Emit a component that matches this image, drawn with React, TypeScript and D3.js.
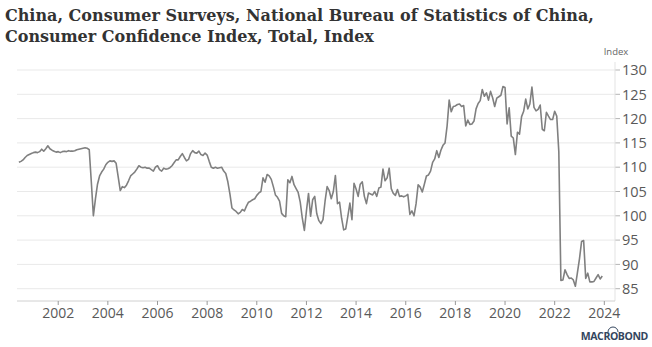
import React from "react";
import * as d3 from "d3";

const W = 652;
const H = 347;

const title1 = "China, Consumer Surveys, National Bureau of Statistics of China,";
const title2 = "Consumer Confidence Index, Total, Index";
const unitLabel = "Index";
const logoText = "MACROBOND";

const yTicks = [85, 90, 95, 100, 105, 110, 115, 120, 125, 130];
const xTickYears = [2002, 2004, 2006, 2008, 2010, 2012, 2014, 2016, 2018, 2020, 2022, 2024];

// monthly series, first observation June 2000
const seriesStartYear = 2000;
const seriesStartMonth = 6;

const values2000s = [
  111.0, 111.2, 111.5, 112.0, 112.4, 112.6, 112.8,
  113.0, 113.1, 113.0, 113.2, 113.7, 113.3, 113.8, 114.4, 113.8, 113.5, 113.3, 113.1,
  113.2, 113.0, 113.2, 113.3, 113.2, 113.4, 113.3, 113.3, 113.4, 113.6, 113.7, 113.8,
  113.9, 114.0, 113.9, 113.6, 107.0, 100.0, 103.5, 106.5, 108.2, 109.0, 109.6, 110.5,
  111.0, 111.3, 111.2, 111.3, 110.8, 108.0, 105.2, 106.0, 105.8, 106.3, 107.2, 108.2,
  108.6, 109.0, 109.6, 110.3, 110.0, 109.9, 110.0, 109.8, 109.8, 109.5, 109.2, 110.0,
  110.3, 109.5, 109.2, 109.8, 109.6, 109.7, 109.9, 110.3, 110.9, 111.5, 111.5, 112.2,
  112.8, 112.0, 111.3, 111.6, 112.8, 113.4, 113.0, 112.9, 113.3, 112.6, 112.4, 112.9,
  112.5, 111.2, 110.0, 109.8, 110.0, 109.8, 109.9, 110.0, 109.2, 108.7, 107.0, 104.5,
  101.6, 101.2, 100.9, 100.4, 100.7, 101.3, 101.0, 102.0, 102.8, 103.0, 103.3, 103.5,
];

const values2010s = [
  104.2, 104.7, 105.0, 107.8, 106.9, 108.5, 108.2, 107.5, 106.0, 104.3, 103.8, 103.0,
  100.5, 100.0, 99.8, 107.4, 106.8, 108.1, 106.4, 105.6, 104.8, 102.8, 99.5, 97.0,
  101.0, 104.6, 99.9, 103.3, 104.0, 100.4, 99.0, 98.4, 99.2, 103.0, 106.0, 105.2,
  103.5, 105.0, 108.3, 102.5, 102.8, 99.5, 97.1, 97.3, 99.9, 102.6, 99.2, 106.7,
  105.5, 104.0, 106.5, 107.0, 104.0, 102.5, 104.7, 104.5, 104.3, 105.0, 104.0, 105.7,
  105.9, 109.6, 107.2, 107.8, 109.8, 105.6, 104.6, 104.2, 105.4, 104.0, 104.1, 103.9,
  104.1, 104.4, 100.3, 101.0, 100.0, 102.5, 106.4, 105.9, 104.9, 106.5, 108.2, 108.4,
  109.2, 111.0, 111.7, 113.4, 112.0, 113.5, 114.5, 115.0, 118.5, 123.8, 121.4, 122.5,
  122.6, 122.9, 123.0, 122.5, 122.7, 118.5, 119.7, 118.8, 118.9, 119.5, 122.0, 123.1,
  123.7, 126.0, 124.6, 125.3, 123.8, 125.6, 124.3, 122.5, 124.2, 124.5, 124.8, 126.6,
];

const values2020s = [
  126.4, 118.9, 122.2, 116.4, 116.0, 112.6, 117.2, 116.8, 120.4, 121.5, 124.0, 122.0,
  123.0, 126.5, 122.3, 121.6, 121.9, 122.8, 117.8, 117.5, 121.3, 120.5, 119.8, 119.8,
  121.5, 120.5, 113.2, 86.7, 86.8, 88.9, 87.9, 87.1, 87.2, 86.8, 85.5, 88.3,
  91.2, 94.7, 94.9, 87.1, 88.2, 86.4, 86.4, 86.5, 87.2, 87.9, 87.0, 87.6,
];

type Pt = { t: number; v: number };

const allValues = [...values2000s, ...values2010s, ...values2020s];
const series: Pt[] = allValues.map((v, i) => ({
  t: seriesStartYear + (seriesStartMonth - 1 + i) / 12,
  v,
}));

const PLOT_LEFT = 17;
const PLOT_RIGHT = 615;
const AXIS_Y = 301;

const x = d3.scaleLinear().domain([2000.34, 2024.43]).range([PLOT_LEFT, PLOT_RIGHT]);
const y = d3.scaleLinear().domain([85, 130]).range([288.7, 70]);

const lineGen = d3
  .line<Pt>()
  .x((d) => x(d.t))
  .y((d) => y(d.v));

const sans = "'Open Sans', 'Noto Sans', sans-serif";
const serif = "'DejaVu Serif', serif";

export default function App() {
  const path = lineGen(series) || "";
  return (
    <div style={{ position: "absolute", left: 0, top: 0 }}>
      <svg width={W} height={H} style={{ display: "block", background: "#fff" }}>
        <text x={5} y={21} fontFamily={serif} fontWeight="bold" fontSize={16} fill="#333">
          {title1}
        </text>
        <text x={5} y={42} fontFamily={serif} fontWeight="bold" fontSize={16} fill="#333">
          {title2}
        </text>

        {yTicks.map((t) => (
          <g key={t}>
            <line
              x1={PLOT_LEFT}
              x2={PLOT_RIGHT}
              y1={y(t)}
              y2={y(t)}
              stroke="#e9e9e9"
              strokeWidth={1}
            />
            <line x1={PLOT_RIGHT} x2={PLOT_RIGHT + 5} y1={y(t)} y2={y(t)} stroke="#b5b5b5" />
            <text
              x={622}
              y={y(t)}
              dy="0.36em"
              fontFamily={sans}
              fontSize={14.5}
              fill="#595959"
            >
              {t}
            </text>
          </g>
        ))}

        <line x1={PLOT_RIGHT} x2={PLOT_RIGHT} y1={62} y2={AXIS_Y} stroke="#e3e3e3" />
        <text x={616} y={55} textAnchor="middle" fontFamily={sans} fontSize={9.5} fill="#666">
          {unitLabel}
        </text>

        <line x1={PLOT_LEFT} x2={PLOT_RIGHT} y1={AXIS_Y} y2={AXIS_Y} stroke="#d0d0d0" />
        {xTickYears.map((yr) => (
          <g key={yr}>
            <line x1={x(yr)} x2={x(yr)} y1={AXIS_Y} y2={AXIS_Y + 4} stroke="#999" />
            <text
              x={x(yr)}
              y={318}
              textAnchor="middle"
              fontFamily={sans}
              fontSize={14}
              fill="#595959"
            >
              {yr}
            </text>
          </g>
        ))}

        <path d={path} fill="none" stroke="#808080" strokeWidth={1.6} strokeLinejoin="round" />

        <g>
          <text
            x={648}
            y={340}
            textAnchor="end"
            fontFamily={sans}
            fontWeight="bold"
            fontSize={10.5}
            fill="#34465e"
            letterSpacing={-0.4}
          >
            {logoText}
          </text>
          <path d="M 608 332 A 5 5 0 0 1 618 332" fill="none" stroke="#34465e" strokeWidth={1} />
        </g>
      </svg>
    </div>
  );
}
